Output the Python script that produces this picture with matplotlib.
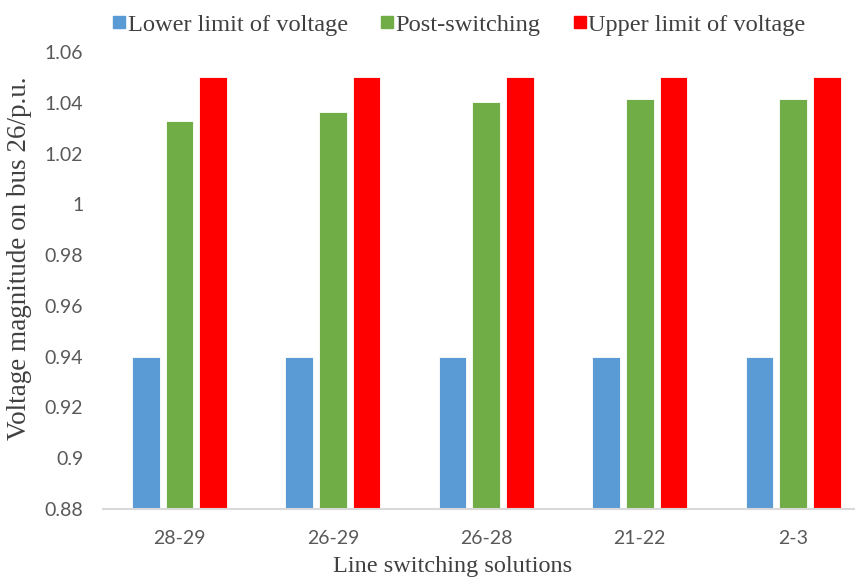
import matplotlib
matplotlib.use("Agg")
import matplotlib.pyplot as plt
import numpy as np
from matplotlib.lines import Line2D

categories = ["28-29", "26-29", "26-28", "21-22", "2-3"]
lower_limit = [0.94, 0.94, 0.94, 0.94, 0.94]
post_switching = [1.033, 1.0365, 1.0405, 1.0415, 1.0415]
upper_limit = [1.05, 1.05, 1.05, 1.05, 1.05]
series_names = ["Lower limit of voltage", "Post-switching", "Upper limit of voltage"]
colors = ["#5B9BD5", "#70AD47", "#FF0000"]
yticks = [0.88, 0.9, 0.92, 0.94, 0.96, 0.98, 1, 1.02, 1.04, 1.06]
yticklabels = ["0.88", "0.9", "0.92", "0.94", "0.96", "0.98", "1", "1.02", "1.04", "1.06"]

fig = plt.figure(figsize=(8.55, 5.78), dpi=100)
ax = fig.add_axes([102.8 / 855, 69 / 578, 767 / 855, 457 / 578])

x = np.arange(len(categories))
w = 0.18
step = 0.22
for i, (vals, c) in enumerate(zip([lower_limit, post_switching, upper_limit], colors)):
    ax.bar(x + (i - 1) * step, [v - 0.88 for v in vals], bottom=0.88, width=w,
           color=c, edgecolor="white", linewidth=0.6, zorder=2)

ax.set_xlim(-0.5, len(categories) - 0.5)
ax.set_ylim(0.88, 1.06)
ax.set_yticks(yticks)
ax.set_yticklabels(yticklabels, family="Lato", fontsize=14, color="#595959")
ax.set_xticks(x)
ax.set_xticklabels(categories, family="Lato", fontsize=14, color="#595959")
ax.tick_params(axis="both", length=0)
ax.tick_params(axis="y", pad=14)
ax.tick_params(axis="x", pad=15)
for s in ["top", "right", "left"]:
    ax.spines[s].set_visible(False)
ax.spines["bottom"].set_color("#D9D9D9")
ax.spines["bottom"].set_linewidth(1.5)

ax.set_ylabel("Voltage magnitude on bus 26/p.u.", family="Liberation Serif",
              fontsize=19.5, color="#404040")
ax.yaxis.set_label_coords((32 - 102.8) / 767, (578 - 258 - 69) / 457)
ax.set_xlabel("Line switching solutions", family="Liberation Serif",
              fontsize=17.5, color="#404040")
ax.xaxis.set_label_coords((453 - 102.8) / 767, (578 - 556 - 69) / 457)

handles = [Line2D([0], [0], marker="s", linestyle="none", markersize=8.5,
                  markerfacecolor=c, markeredgecolor=c) for c in colors]
fig.legend(handles, series_names, loc="center", bbox_to_anchor=(460 / 855, 1 - 25 / 578),
           ncol=3, frameon=False, handlelength=0.4, handletextpad=0.15, columnspacing=1.4,
           prop={"family": "Liberation Serif", "size": 17.6}, labelcolor="#404040")

fig.savefig("out.png", dpi=100)
